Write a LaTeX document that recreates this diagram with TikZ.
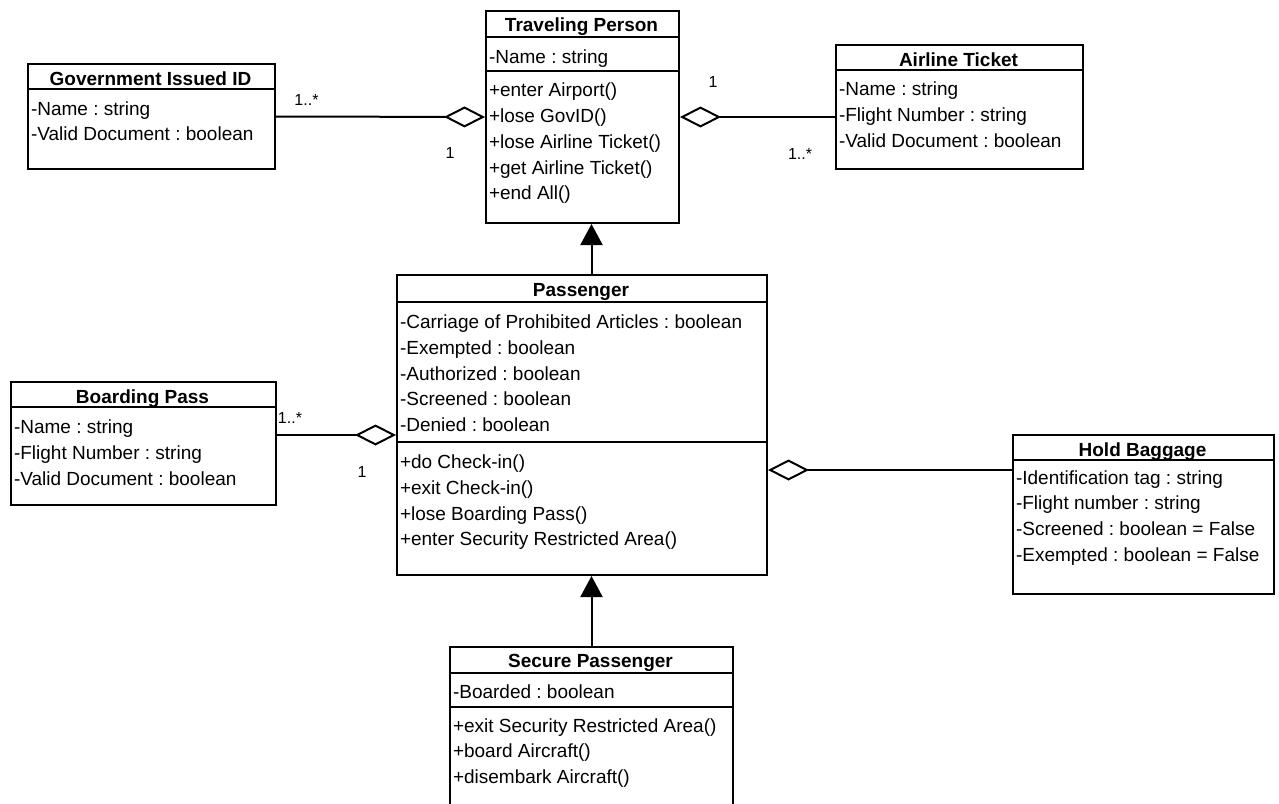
\documentclass[tikz,border=0pt]{standalone}
\usepackage{fontspec}
\setmainfont{Liberation Sans}
\frenchspacing
\usetikzlibrary{arrows.meta}
\tikzset{every node/.style={font=\fontsize{19}{23}\selectfont},
         classbox/.style={    % outer frame of a class
           draw, anchor=north west, inner sep=0pt},
         classname/.style={
           anchor=base, inner sep=0pt, font=\fontsize{19}{23}\selectfont\bfseries},
         member/.style={anchor=base west, inner sep=0pt},
         mult/.style={        % multiplicities
           anchor=base, inner sep=0pt, font=\fontsize{16}{19}\selectfont},
         aggr/.style={{Diamond[open, length=41pt, width=21pt]}-},
         inherit/.style={-{Triangle[length=21pt, width=22pt]}}}

\begin{document}
\begin{tikzpicture}[x=1pt, y=-1pt, line width=2pt]
  \path[use as bounding box, fill=white] (0,0) rectangle (1279,803);
  \clip (0,0) rectangle (1279,803);

  % Traveling Person
  \node [classbox, minimum width=193pt, minimum height=212pt] (tp) at (485,10) {};
  \node [classname] (tpname) at (581.5,31.7) {Traveling Person};
  \draw (tp.west |- 0,36.5) -- (tp.east |- 0,36.5);
  \draw (tp.west |- 0,70.5) -- (tp.east |- 0,70.5);
  \node [member] (tpattr) at (488,63.3) {-Name : string};
  \foreach \op [count=\i] in {+enter Airport(), +lose GovID(), +lose Airline Ticket(),
                              +get Airline Ticket(), +end All()}
    \node [member] (tpop\i) at (488,70.9+25.8*\i) {\op};

  % Government Issued ID
  \node [classbox, minimum width=247pt, minimum height=105pt] (govid) at (27,63) {};
  \node [classname] (govidname) at (150.5,85) {Government Issued ID};
  \draw (govid.west |- 0,89) -- (govid.east |- 0,89);
  \node [member] (govidattr1) at (30,115) {-Name : string};
  \node [member] (govidattr2) at (30,140.8) {-Valid Document : boolean};

  % Airline Ticket
  \node [classbox, minimum width=247pt, minimum height=124pt] (at) at (835,44) {};
  \node [classname] (atname) at (958.5,66) {Airline Ticket};
  \draw (at.west |- 0,70) -- (at.east |- 0,70);
  \node [member] (atattr1) at (838,95.5) {-Name : string};
  \node [member] (atattr2) at (838,121.3) {-Flight Number : string};
  \node [member] (atattr3) at (838,147.1) {-Valid Document : boolean};

  % Passenger
  \node [classbox, minimum width=370pt, minimum height=300pt] (passenger) at (396,274) {};
  \node [classname] (passengername) at (581,296.7) {Passenger};
  \draw (passenger.west |- 0,302) -- (passenger.east |- 0,302);
  \draw (passenger.west |- 0,442) -- (passenger.east |- 0,442);
  \foreach \attr [count=\i] in {-Carriage of Prohibited Articles : boolean, -Exempted : boolean,
                                -Authorized : boolean, -Screened : boolean, -Denied : boolean}
    \node [member] (passengerattr\i) at (399,302.7+25.8*\i) {\attr};
  \foreach \op [count=\i] in {+do Check-in(), +exit Check-in(), +lose Boarding Pass(),
                              +enter Security Restricted Area()}
    \node [member] (passengerop\i) at (399,442.7+25.8*\i) {\op};

  % Boarding Pass
  \node [classbox, minimum width=265pt, minimum height=123pt] (bp) at (10,381) {};
  \node [classname] (bpname) at (142.5,403) {Boarding Pass};
  \draw (bp.west |- 0,407) -- (bp.east |- 0,407);
  \node [member] (bpattr1) at (13,433.5) {-Name : string};
  \node [member] (bpattr2) at (13,459.3) {-Flight Number : string};
  \node [member] (bpattr3) at (13,485.1) {-Valid Document : boolean};

  % Hold Baggage
  \node [classbox, minimum width=261pt, minimum height=159pt] (hb) at (1012,434) {};
  \node [classname] (hbname) at (1142.5,456) {Hold Baggage};
  \draw (hb.west |- 0,460) -- (hb.east |- 0,460);
  \foreach \attr [count=\i] in {-Identification tag : string, -Flight number : string,
                                -Screened : boolean = False, -Exempted : boolean = False}
    \node [member] (hbattr\i) at (1015,458.2+25.8*\i) {\attr};

  % Secure Passenger
  \node [classbox, minimum width=283pt, minimum height=200pt] (sp) at (449,646) {};
  \node [classname] (spname) at (590.5,667.3) {Secure Passenger};
  \draw (sp.west |- 0,672.5) -- (sp.east |- 0,672.5);
  \draw (sp.west |- 0,706.5) -- (sp.east |- 0,706.5);
  \node [member] (spattr) at (452,698.3) {-Boarded : boolean};
  \foreach \op [count=\i] in {+exit Security Restricted Area(), +board Aircraft(),
                              +disembark Aircraft()}
    \node [member] (spop\i) at (452,706.2+25.8*\i) {\op};

  % aggregations
  \coordinate (bpport) at ([yshift=8.5pt]bp.east);
  \coordinate (hbport) at ([yshift=44.5pt]hb.west);
  \draw [aggr] (tp.west) -- (govid.east);
  \draw [aggr] (tp.east) -- (at.west |- tp.east);
  \draw [aggr] (bpport -| passenger.west) -- (bpport);
  \draw [aggr] (hbport -| passenger.east) -- (hbport);

  \node [mult] (govidmany) at (306.5,105) {1..*};
  \node [mult] (govidone) at (450,158) {1};
  \node [mult] (atone) at (713,87) {1};
  \node [mult] (atmany) at (800,159) {1..*};
  \node [mult] (bpmany) at (290,423) {1..*};
  \node [mult] (bpone) at (362,477) {1};

  % generalizations
  \draw [inherit] (passenger.north -| sp.north) -- (sp.north |- tp.south);
  \draw [inherit] (sp.north) -- (sp.north |- passenger.south);
\end{tikzpicture}
\end{document}
